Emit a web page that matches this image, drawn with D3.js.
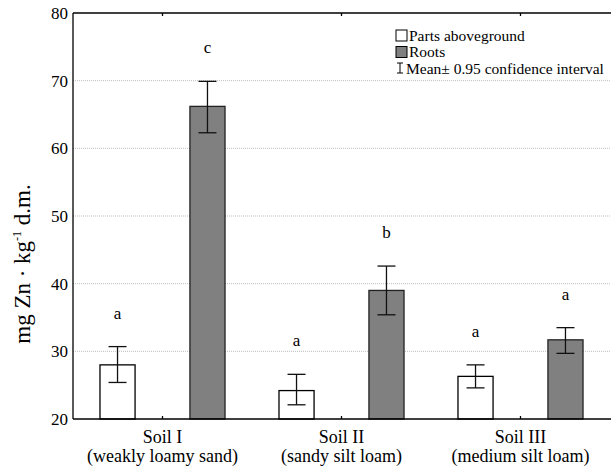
<!DOCTYPE html>
<html><head><meta charset="utf-8">
<script src="https://cdn.jsdelivr.net/npm/d3@7"></script>
<style>body{margin:0;background:#fff}svg{display:block}text{font-family:"Liberation Serif","Times New Roman",serif;fill:#000}</style>
</head><body>
<script>
const categories = ["Soil I|(weakly loamy sand)", "Soil II|(sandy silt loam)", "Soil III|(medium silt loam)"];
const seriesNames = ["Parts aboveground", "Roots"];
const aboveMean = [28.0, 24.2, 26.3];
const aboveLow = [25.4, 22.1, 24.6];
const aboveHigh = [30.7, 26.6, 28.0];
const rootsMean = [66.2, 39.0, 31.7];
const rootsLow = [62.3, 35.4, 29.7];
const rootsHigh = [69.9, 42.6, 33.5];
const aboveLetters = ["a", "a", "a"];
const rootsLetters = ["c", "b", "a"];
const yTicks = [20, 30, 40, 50, 60, 70, 80];

const W = 611, H = 470;
const m = {l: 73, r: 1, t: 13, b: 51};
const svg = d3.select("body").append("svg").attr("width", W).attr("height", H);

const x = d3.scaleBand().domain(categories).range([m.l, W - m.r]).padding(0);
const xs = d3.scaleBand().domain(seriesNames).range([0, x.bandwidth()]).paddingInner(0.61).paddingOuter(0.3);
const y = d3.scaleLinear().domain([20, 80]).range([H - m.b, m.t]);

// gridlines
svg.append("g").selectAll("line").data(yTicks.filter(t => t > 20 && t < 80)).join("line")
  .attr("x1", m.l).attr("x2", W - m.r).attr("y1", d => y(d)).attr("y2", d => y(d))
  .attr("stroke", "#bdbdbd").attr("stroke-width", 1).attr("stroke-dasharray", "1,1");

const rows = categories.map((c, i) => [
  {c, s: seriesNames[0], v: aboveMean[i], lo: aboveLow[i], hi: aboveHigh[i], L: aboveLetters[i]},
  {c, s: seriesNames[1], v: rootsMean[i], lo: rootsLow[i], hi: rootsHigh[i], L: rootsLetters[i]}
]).flat();
const fill = {"Parts aboveground": "#ffffff", "Roots": "#808080"};
const stroke = {"Parts aboveground": "#000", "Roots": "#222"};

svg.append("g").selectAll("rect").data(rows).join("rect")
  .attr("x", d => x(d.c) + xs(d.s)).attr("width", xs.bandwidth())
  .attr("y", d => y(d.v)).attr("height", d => y(20) - y(d.v))
  .attr("fill", d => fill[d.s]).attr("stroke", d => stroke[d.s]).attr("stroke-width", 1.3);

const eg = svg.append("g").attr("stroke", "#111").attr("stroke-width", 1.3);
rows.forEach(d => {
  const cx = x(d.c) + xs(d.s) + xs.bandwidth() / 2;
  eg.append("line").attr("x1", cx).attr("x2", cx).attr("y1", y(d.lo)).attr("y2", y(d.hi));
  eg.append("line").attr("x1", cx - 9).attr("x2", cx + 9).attr("y1", y(d.lo)).attr("y2", y(d.lo));
  eg.append("line").attr("x1", cx - 9).attr("x2", cx + 9).attr("y1", y(d.hi)).attr("y2", y(d.hi));
});

svg.append("g").selectAll("text").data(rows).join("text")
  .attr("x", d => x(d.c) + xs(d.s) + xs.bandwidth() / 2).attr("y", d => y(d.hi) - 28)
  .attr("text-anchor", "middle").style("font-size", "17px").text(d => d.L);

// frame
const fr = svg.append("g").attr("stroke", "#000").attr("stroke-width", 1.3);
fr.append("line").attr("x1", m.l).attr("x2", m.l).attr("y1", m.t).attr("y2", H - m.b);
fr.append("line").attr("x1", m.l).attr("x2", W).attr("y1", m.t).attr("y2", m.t);
fr.append("line").attr("x1", m.l).attr("x2", W).attr("y1", H - m.b).attr("y2", H - m.b);
categories.forEach(c => {
  const cx = x(c) + x.bandwidth() / 2;
  fr.append("line").attr("x1", cx).attr("x2", cx).attr("y1", H - m.b).attr("y2", H - m.b - 3);
  fr.append("line").attr("x1", cx).attr("x2", cx).attr("y1", m.t).attr("y2", m.t + 3);
});

// y axis
const ya = svg.append("g").attr("transform", `translate(${m.l},0)`)
  .call(d3.axisLeft(y).tickValues(yTicks).tickSize(0).tickPadding(5));
ya.select(".domain").remove();
ya.selectAll("text").style("font-size", "17px").style("font-family", '"Liberation Serif",serif');

// x labels
const xl = svg.append("g").selectAll("text").data(categories).join("text")
  .attr("text-anchor", "middle").style("font-size", "18px")
  .attr("transform", d => `translate(${x(d) + x.bandwidth() / 2},0)`);
xl.append("tspan").attr("x", 0).attr("y", 443).text(d => d.split("|")[0]);
xl.append("tspan").attr("x", 0).attr("y", 462).text(d => d.split("|")[1]);

// y title
const yt = svg.append("text").attr("transform", "translate(30,264) rotate(-90)")
  .attr("text-anchor", "middle").style("font-size", "23px");
yt.append("tspan").text("mg Zn · kg");
yt.append("tspan").attr("dy", -9).style("font-size", "12px").text("-1");
yt.append("tspan").attr("dy", 9).text(" d.m.");

// legend
const lg = svg.append("g").style("font-size", "15.5px");
seriesNames.forEach((s, i) => {
  const yy = 30 + i * 16.5;
  lg.append("rect").attr("x", 396).attr("y", yy).attr("width", 11).attr("height", 11)
    .attr("fill", fill[s]).attr("stroke", "#000").attr("stroke-width", 1);
  lg.append("text").attr("x", 409).attr("y", yy + 10.5).text(s);
});
lg.append("g").attr("stroke", "#000").attr("stroke-width", 1).call(g => {
  g.append("line").attr("x1", 400).attr("x2", 400).attr("y1", 63).attr("y2", 73);
  g.append("line").attr("x1", 397).attr("x2", 403).attr("y1", 63).attr("y2", 63);
  g.append("line").attr("x1", 397).attr("x2", 403).attr("y1", 73).attr("y2", 73);
});
lg.append("text").attr("x", 406).attr("y", 74).text("Mean± 0.95 confidence interval");
</script>
</body></html>
